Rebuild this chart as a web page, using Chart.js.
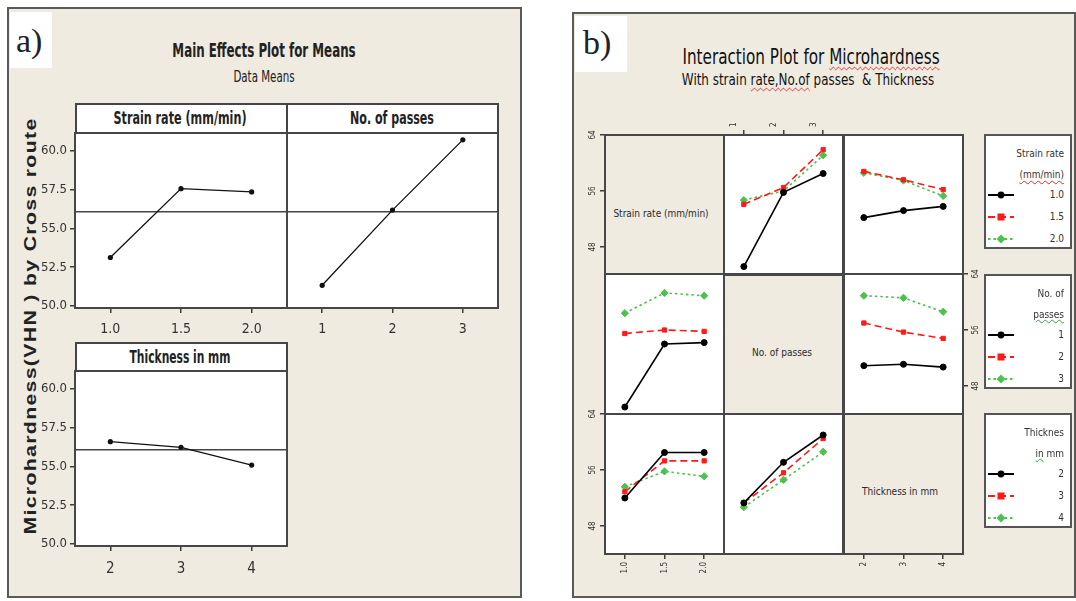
<!DOCTYPE html>
<html>
<head>
<meta charset="utf-8">
<script src="https://cdn.jsdelivr.net/npm/chart.js@4.4.0/dist/chart.umd.min.js"></script>
<style>
  body { margin: 0; width: 1076px; height: 601px; background: #fff; position: relative; overflow: hidden;
         font-family: 'Liberation Sans Narrow', 'DejaVu Sans Condensed', sans-serif; color: #222; }
  .panel { position: absolute; background: #efebe1; border: 2px solid #5a5a5a; box-sizing: border-box; }
  .tag { position: absolute; background: #fff; font-family: 'Liberation Serif', serif; font-size: 34px; line-height: 1; }
  .strip { position: absolute; background: #fff; border: 2px solid #454545; box-sizing: border-box; }
  .c { position: absolute; white-space: nowrap; transform: translate(-50%, -50%); line-height: 1; }
  .legend { position: absolute; left: 984px; width: 88px; height: 115px; background: #fff;
            border: 2px solid #555; box-sizing: border-box; font-size: 10px; color: #333; }
  .legend .r { position: absolute; right: 6px; white-space: nowrap; transform: translateY(-50%); line-height: 1; }
  .wavy { text-decoration: underline wavy #e03030; text-decoration-thickness: 1px; text-underline-offset: 2px; }
  .wavyg { text-decoration: underline wavy #40a040; text-decoration-thickness: 1px; text-underline-offset: 1px; }
</style>
</head>
<body>
<div class="panel" style="left:7px;top:7px;width:515px;height:591px"></div>
<div class="panel" style="left:572px;top:12px;width:504px;height:586px"></div>

<div class="tag" style="left:10px;top:12px;width:42px;height:56px"><span style="position:absolute;left:6px;top:12px">a)</span></div>
<div class="tag" style="left:575px;top:16px;width:52px;height:56px"><span style="position:absolute;left:8px;top:10px">b)</span></div>

<!-- panel a titles -->
<div class="c" data-fit="183" style="left:264px;top:50px;font-size:19px;font-weight:bold">Main Effects Plot for Means</div>
<div class="c" data-fit="61" style="left:264px;top:77px;font-size:15px">Data Means</div>
<div class="c" data-fit="417" data-rot="1" style="left:31px;top:326px;font-size:16px;font-weight:bold;font-family:'Liberation Sans',sans-serif;letter-spacing:1px">Microhardness(VHN ) by Cross route</div>

<div class="strip" style="left:75px;top:103px;width:213px;height:31px"></div>
<div class="strip" style="left:286px;top:103px;width:213px;height:31px"></div>
<div class="strip" style="left:75px;top:342px;width:213px;height:30px"></div>
<div class="c" data-fit="133" style="left:180px;top:118px;font-size:17px;font-weight:bold">Strain rate (mm/min)</div>
<div class="c" data-fit="84" style="left:392px;top:118px;font-size:17px;font-weight:bold">No. of passes</div>
<div class="c" data-fit="101" style="left:180px;top:357px;font-size:17px;font-weight:bold">Thickness in mm</div>

<!-- panel b titles -->
<div class="c" data-fit="257" style="left:811px;top:57px;font-size:22px;color:#111">Interaction Plot for <span class="wavy">Microhardness</span></div>
<div class="c" data-fit="252" style="left:808px;top:80px;font-size:16px;color:#111">With strain <span class="wavy">rate,No.of</span> passes &nbsp;&amp; Thickness</div>

<div class="c" style="left:661px;top:214px;font-size:10px;color:#2a2a2a">Strain rate (mm/min)</div>
<div class="c" style="left:782px;top:353px;font-size:10px;color:#2a2a2a">No. of passes</div>
<div class="c" style="left:900px;top:492px;font-size:10px;color:#2a2a2a">Thickness in mm</div>

<script>
// factor levels (tick labels)
const strainLevels = ['1.0', '1.5', '2.0'];
const passLevels = ['1', '2', '3'];
const thickLevels = ['2', '3', '4'];

// (a) main effects, mean microhardness per level
const meanStrain = [53.12, 57.55, 57.34];
const meanPasses = [51.33, 56.17, 60.69];
const meanThick = [56.58, 56.22, 55.08];
const grandMean = 56.07;
const mainTicks = [50.0, 52.5, 55.0, 57.5, 60.0];

// (b) interaction means, one row per line level
const srVsPasses = [[45.2, 55.8, 58.5], [54.1, 56.5, 61.9], [54.7, 56.0, 61.1]];
const srVsThick = [[52.2, 53.2, 53.8], [58.8, 57.6, 56.2], [58.6, 57.5, 55.3]];
const passVsSr = [[45.0, 54.0, 54.2], [55.5, 56.0, 55.8], [58.4, 61.3, 60.9]];
const passVsThick = [[50.9, 51.1, 50.7], [57.0, 55.7, 54.8], [60.9, 60.6, 58.6]];
const thickVsSr = [[52.0, 58.5, 58.5], [52.9, 57.3, 57.3], [53.6, 55.8, 55.1]];
const thickVsPasses = [[51.3, 57.1, 61.0], [51.3, 55.6, 60.5], [50.7, 54.6, 58.6]];
const interTicks = [48, 56, 64];

const NARROW = "'Liberation Sans Narrow', 'DejaVu Sans Condensed', sans-serif";
const M = 50;

const lineStyles = [
    { color: '#000000', dash: [], point: 'circle', radius: 3 },
    { color: '#ff1a1a', dash: [7, 4], point: 'rect', radius: 3 },
    { color: '#4cc24c', dash: [2.5, 3], point: 'rectRot', radius: 3.6 }
];

// white/beige cell fill, reference line, frame
const framePlugin = {
    id: 'frame',
    beforeDraw(chart, args, opts) {
        const a = chart.chartArea, ctx = chart.ctx;
        if (opts.fill) {
            ctx.save();
            ctx.fillStyle = opts.fill;
            ctx.fillRect(a.left, a.top, a.width, a.height);
            ctx.restore();
        }
    },
    beforeDatasetsDraw(chart, args, opts) {
        if (opts.ref == null) return;
        const a = chart.chartArea, ctx = chart.ctx;
        const y = chart.scales.y.getPixelForValue(opts.ref);
        ctx.save();
        ctx.strokeStyle = '#444';
        ctx.lineWidth = 1.5;
        ctx.beginPath();
        ctx.moveTo(a.left, y);
        ctx.lineTo(a.right, y);
        ctx.stroke();
        ctx.restore();
    },
    afterDraw(chart, args, opts) {
        const a = chart.chartArea, ctx = chart.ctx;
        ctx.save();
        ctx.strokeStyle = '#474747';
        ctx.lineWidth = 2;
        ctx.strokeRect(a.left, a.top, a.width, a.height);
        ctx.restore();
    }
};

function cellChart(rect, cfg) {
    const ax = cfg.xPos ? cfg.ax : 0;
    const ay = cfg.yPos ? cfg.ay : 0;
    const canvas = document.createElement('canvas');
    canvas.width = rect.w + 2 * M;
    canvas.height = rect.h + 2 * M;
    canvas.style.cssText = `position:absolute;left:${rect.x - M}px;top:${rect.y - M}px`;
    document.body.appendChild(canvas);
    const rot = cfg.rot || 0;
    new Chart(canvas, {
        type: 'line',
        data: { labels: cfg.labels, datasets: cfg.datasets || [] },
        plugins: [framePlugin],
        options: {
            responsive: false,
            animation: false,
            events: [],
            layout: {
                padding: {
                    left: M - (cfg.yPos === 'left' ? ay : 0),
                    right: M - (cfg.yPos === 'right' ? ay : 0),
                    top: M - (cfg.xPos === 'top' ? ax : 0),
                    bottom: M - (cfg.xPos === 'bottom' ? ax : 0)
                }
            },
            plugins: {
                legend: { display: false },
                tooltip: { enabled: false },
                frame: { fill: cfg.fill, ref: cfg.ref }
            },
            scales: {
                x: {
                    type: 'category',
                    offset: true,
                    position: cfg.xPos || 'bottom',
                    display: !!cfg.xPos,
                    grid: { offset: false, drawOnChartArea: false, tickLength: cfg.tickLen, color: '#3c3c3c', lineWidth: 1.5 },
                    border: { display: false },
                    ticks: { font: { family: NARROW, size: cfg.xFont }, color: '#333', padding: cfg.xPad,
                             minRotation: rot, maxRotation: rot, autoSkip: false },
                    afterFit: s => { s.height = ax; }
                },
                y: {
                    type: 'linear',
                    min: cfg.yMin,
                    max: cfg.yMax,
                    position: cfg.yPos || 'left',
                    display: !!cfg.yPos,
                    afterBuildTicks: s => { s.ticks = cfg.yTicks.map(v => ({ value: v })); },
                    grid: { drawOnChartArea: false, tickLength: cfg.tickLen, color: '#3c3c3c', lineWidth: 1.5 },
                    border: { display: false },
                    ticks: { font: { family: NARROW, size: cfg.yFont }, color: '#333', padding: cfg.yPad,
                             minRotation: rot, maxRotation: rot, crossAlign: rot ? 'center' : 'near',
                             callback: v => cfg.yFmt(v) },
                    afterFit: s => { s.width = ay; }
                }
            }
        }
    });
}

// ---------- (a) main effects ----------
function mainSet(values) {
    return [{ data: values, borderColor: '#111', backgroundColor: '#111', borderWidth: 1.3,
              pointRadius: 2.6, pointBorderWidth: 0, tension: 0 }];
}
const mainCommon = { yMin: 49.87, yMax: 61.13, yTicks: mainTicks, yFmt: v => v.toFixed(1),
                     fill: '#ffffff', ref: grandMean, ay: 40, ax: 30, yFont: 13, yPad: 3, tickLen: 5 };

cellChart({ x: 75, y: 133, w: 212, h: 175 }, Object.assign({}, mainCommon, {
    labels: strainLevels, datasets: mainSet(meanStrain), xPos: 'bottom', yPos: 'left', xFont: 14, xPad: 8 }));
cellChart({ x: 287, y: 133, w: 211, h: 175 }, Object.assign({}, mainCommon, {
    labels: passLevels, datasets: mainSet(meanPasses), xPos: 'bottom', xFont: 14, xPad: 8 }));
cellChart({ x: 75, y: 371, w: 212, h: 175 }, Object.assign({}, mainCommon, {
    labels: thickLevels, datasets: mainSet(meanThick), xPos: 'bottom', yPos: 'left', xFont: 15, xPad: 9 }));

// ---------- (b) interaction matrix ----------
function interSets(series, levels) {
    return series.map((vals, i) => {
        const st = lineStyles[i];
        return { label: levels[i], data: vals, borderColor: st.color, backgroundColor: st.color,
                 borderWidth: 1.6, borderDash: st.dash, pointStyle: st.point, pointRadius: st.radius,
                 pointBorderWidth: 1, tension: 0 };
    });
}
const colX = [605, 724, 844];
const rowY = [135, 274, 414];
const cw = 119, chh = 140;
const interCommon = { yMin: 44, yMax: 64, yTicks: interTicks, yFmt: v => String(v), ax: 24, ay: 24,
                      rot: 90, xFont: 8, yFont: 8, xPad: 3, yPad: 3, tickLen: 5 };
function cell(r, c, extra) {
    cellChart({ x: colX[c], y: rowY[r], w: cw, h: chh }, Object.assign({}, interCommon, extra));
}
const beige = null, white = '#ffffff';
// row 1: lines = strain rate
cell(0, 0, { labels: strainLevels, fill: beige, yPos: 'left' });
cell(0, 1, { labels: passLevels, fill: white, xPos: 'top', datasets: interSets(srVsPasses, strainLevels) });
cell(0, 2, { labels: thickLevels, fill: white, datasets: interSets(srVsThick, strainLevels) });
// row 2: lines = no. of passes
cell(1, 0, { labels: strainLevels, fill: white, datasets: interSets(passVsSr, passLevels) });
cell(1, 1, { labels: passLevels, fill: beige });
cell(1, 2, { labels: thickLevels, fill: white, yPos: 'right', datasets: interSets(passVsThick, passLevels) });
// row 3: lines = thickness
cell(2, 0, { labels: strainLevels, fill: white, yPos: 'left', xPos: 'bottom', datasets: interSets(thickVsSr, thickLevels) });
cell(2, 1, { labels: passLevels, fill: white, datasets: interSets(thickVsPasses, thickLevels) });
cell(2, 2, { labels: thickLevels, fill: beige, xPos: 'bottom' });

// ---------- legends ----------
function sampleSvg(st) {
    const dash = st.dash.length ? `stroke-dasharray="${st.dash.join(',')}"` : '';
    let mk;
    if (st.point === 'circle') mk = `<circle cx="13" cy="6" r="3.4" fill="${st.color}"/>`;
    else if (st.point === 'rect') mk = `<rect x="9.5" y="2.5" width="7" height="7" fill="${st.color}"/>`;
    else mk = `<polygon points="13,1.5 17.5,6 13,10.5 8.5,6" fill="${st.color}"/>`;
    return `<svg width="26" height="12"><line x1="0" y1="6" x2="26" y2="6" stroke="${st.color}" stroke-width="2" ${dash}/>${mk}</svg>`;
}
function legendBox(top, titleHtml, levels) {
    const box = document.createElement('div');
    box.className = 'legend';
    box.style.top = top + 'px';
    let html = `<div class="r" style="top:18px">${titleHtml[0]}</div><div class="r" style="top:39px">${titleHtml[1]}</div>`;
    levels.forEach((lv, i) => {
        const y = 59 + i * 22;
        html += `<div style="position:absolute;left:2px;top:${y - 6}px;line-height:0">${sampleSvg(lineStyles[i])}</div>`;
        html += `<div class="r" style="top:${y}px">${lv}</div>`;
    });
    box.innerHTML = html;
    document.body.appendChild(box);
}
legendBox(134, ['Strain rate', '<span class="wavy">(mm/min)</span>'], strainLevels);
legendBox(274, ['No. of', '<span class="wavyg">passes</span>'], passLevels);
legendBox(413, ['Thicknes', '<span class="wavyg">in</span> mm'], thickLevels);

// squeeze titles to the reference widths
document.querySelectorAll('[data-fit]').forEach(el => {
    const k = Number(el.dataset.fit) / el.offsetWidth;
    el.style.transform = el.dataset.rot
        ? `translate(-50%, -50%) rotate(-90deg) scaleX(${k})`
        : `translate(-50%, -50%) scaleX(${k})`;
});
</script>
</body>
</html>
